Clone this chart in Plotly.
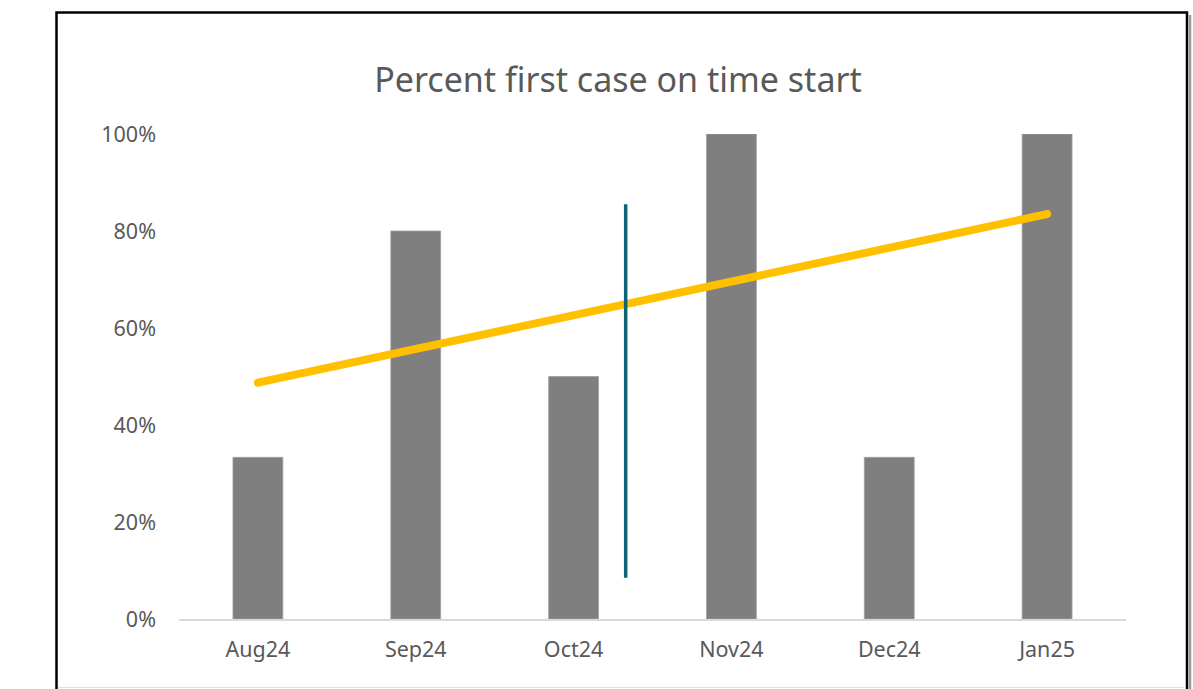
import numpy as np
import plotly.graph_objects as go

months = ["Aug24", "Sep24", "Oct24", "Nov24", "Dec24", "Jan25"]
pct_on_time = [0.3333, 0.80, 0.50, 1.00, 0.3333, 1.00]
y_ticks = [0, 0.2, 0.4, 0.6, 0.8, 1.0]
y_tick_labels = ["0%", "20%", "40%", "60%", "80%", "100%"]
divider_x = 2.33          # category position of the vertical marker
divider_y = [0.085, 0.855]

# linear trendline (Excel-style least squares over the bars)
idx = np.arange(len(months))
slope, intercept = np.polyfit(idx, pct_on_time, 1)
trend = list(slope * idx + intercept)

W, H = 1193, 689
L, R, T, B = 179, 67, 134, 70
pw, ph = W - L - R, H - T - B

def px_x(p):
    return (p - L) / pw

def px_y(p):
    return (H - B - p) / ph

font = "Noto Sans"
grey_txt = "#595959"

fig = go.Figure()
fig.add_trace(go.Bar(x=months, y=pct_on_time, marker=dict(color="#7f7f7f",
                     line=dict(color="#a0a0a0", width=0.8)), width=0.316,
                     showlegend=False, hoverinfo="x+y"))
fig.add_trace(go.Scatter(x=months, y=trend, mode="lines",
                         line=dict(color="#FFC000", width=8),
                         showlegend=False))
# round caps at trendline ends
fig.add_trace(go.Scatter(x=[months[0], months[-1]], y=[trend[0], trend[-1]], mode="markers",
                         marker=dict(color="#FFC000", size=8, line=dict(width=0)),
                         showlegend=False, hoverinfo="skip"))

shapes = [
    dict(type="line", xref="x", yref="y", x0=divider_x, x1=divider_x,
         y0=divider_y[0], y1=divider_y[1], line=dict(color="#0b6374", width=3.5)),
    # chart border
    dict(type="rect", xref="paper", yref="paper", x0=px_x(56.5), x1=px_x(1187),
         y0=px_y(700), y1=px_y(12.5), line=dict(color="black", width=2.5), layer="above"),
    dict(type="line", xref="paper", yref="paper", x0=px_x(1190), x1=px_x(1190),
         y0=px_y(700), y1=px_y(15), line=dict(color="#9a9a9a", width=2.5)),
    dict(type="line", xref="paper", yref="paper", x0=px_x(58), x1=px_x(1186),
         y0=px_y(687.5), y1=px_y(687.5), line=dict(color="#e0e0e0", width=1.2)),
]

fig.update_layout(
    width=W, height=H,
    margin=dict(l=L, r=R, t=T, b=B, autoexpand=False),
    paper_bgcolor="white", plot_bgcolor="white",
    title=dict(text="Percent first case on time start", x=(618) / W, xanchor="center",
               y=1 - 80 / H, yanchor="middle",
               font=dict(family=font, size=34, color=grey_txt)),
    font=dict(family=font, color=grey_txt),
    shapes=shapes,
    bargap=0.684,
    xaxis=dict(type="category", showgrid=False, showline=True, linecolor="#d9d9d9",
               linewidth=1.5, ticks="", tickfont=dict(family=font, size=21.5, color=grey_txt),
               range=[-0.5, 5.5], fixedrange=True, ticklabelstandoff=10),
    yaxis=dict(range=[0, 1], tickvals=y_ticks, ticktext=y_tick_labels, showgrid=False,
               zeroline=False, showline=False, ticks="",
               tickfont=dict(family=font, size=21.5, color=grey_txt), ticklabelstandoff=22,
               fixedrange=True),
)

fig.write_html("out.html")
